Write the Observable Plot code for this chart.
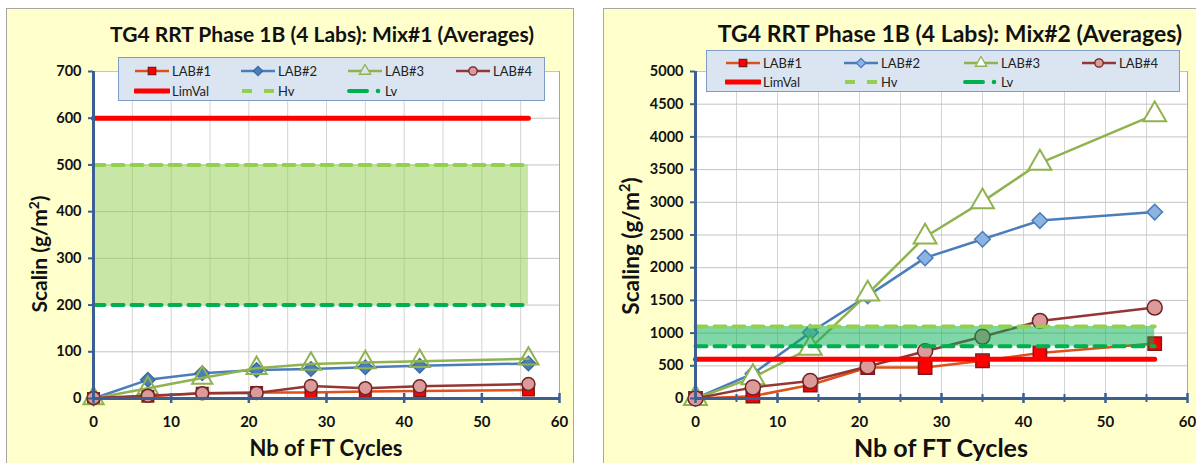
<!DOCTYPE html>
<html><head><meta charset="utf-8">
<script src="https://cdn.jsdelivr.net/npm/d3@7"></script>
<script src="https://cdn.jsdelivr.net/npm/@observablehq/plot@0.6"></script>
<style>
body{margin:0;width:1196px;height:463px;overflow:hidden;background:#fff;font-family:Lato,"Open Sans",sans-serif;position:relative}
.panel{position:absolute;background:#ffffcc;border:1px solid #a6a6a6;box-sizing:border-box}
.abs{position:absolute;white-space:nowrap}
.title{font-weight:bold;font-size:21px;color:#111;transform:translate(-50%,-50%)}
.xlab{font-weight:bold;font-size:22px;color:#111;transform:translate(-50%,-50%)}
.ylab{font-weight:bold;font-size:21px;color:#111;transform:translate(-50%,-50%) rotate(-90deg)}
.ylab sup{font-size:0.65em;vertical-align:0.55em;line-height:0}
.legend{position:absolute;background:#dbe5f1;border:1px solid #7f9cc6;box-sizing:border-box}
.litem{position:absolute;display:flex;align-items:center;font-size:13px;color:#222;transform:translateY(-50%)}
.litem svg{margin-right:2px}
.plotwrap{position:absolute;top:0}
</style></head>
<body>
<div class="panel" style="left:6px;top:8px;width:568px;height:470px"></div>
<div class="panel" style="left:603px;top:8px;width:610px;height:470px"></div>
<div id="c1" class="plotwrap" style="left:0"></div>
<div id="c2" class="plotwrap" style="left:600px"></div>
<script>
// ---- data ----
const cycles = [0, 7, 14, 21, 28, 35, 42, 56];
const labNames = ["LAB#1", "LAB#2", "LAB#3", "LAB#4"];
const mix1Lab1 = [0, 5, 11, 13, 13, 15, 16, 18];
const mix1Lab2 = [0, 40, 54, 61, 63, 67, 70, 75];
const mix1Lab3 = [0, 22, 44, 65, 74, 77, 80, 85];
const mix1Lab4 = [1, 6, 11, 12, 27, 22, 26, 31];
const mix2Lab1 = [0, 36, 206, 474, 474, 577, 696, 840];
const mix2Lab2 = [0, 380, 1010, 1570, 2150, 2435, 2720, 2850];
const mix2Lab3 = [0, 320, 770, 1600, 2470, 3010, 3600, 4340];
const mix2Lab4 = [0, 170, 268, 490, 722, 943, 1186, 1390];
const limitNames = ["LimVal", "Hv", "Lv"];
const mix1Limits = [600, 500, 200];
const mix2Limits = [600, 1100, 800];
const limitSpan = [0, 56];
const xTicks = [0, 10, 20, 30, 40, 50, 60];
const xMinorTicks = [5, 15, 25, 35, 45, 55];
const xGridLines = [5, 10, 15, 20, 25, 30, 35, 40, 45, 50, 55];
const mix1YTicks = [0, 100, 200, 300, 400, 500, 600, 700];
const mix2YTicks = [0, 500, 1000, 1500, 2000, 2500, 3000, 3500, 4000, 4500, 5000];
const titles = ["TG4 RRT Phase 1B (4 Labs): Mix#1 (Averages)", "TG4 RRT Phase 1B (4 Labs): Mix#2 (Averages)"];
const xTitle = "Nb of FT Cycles";
const yTitleWords = ["Scalin", "Scaling"];
const yUnit = "(g/m";

const axisColor = "#3b5f93";
function rows(vals){ return cycles.map((c,i)=>({x:c, y:vals[i]})); }

function buildPlot(el, cfg){
  const [lim, hv, lv] = cfg.limits;
  const marks = [
    Plot.frame({fill:"white", stroke:"#a6a6a6"}),
    Plot.gridX(xGridLines, {stroke:"#d4d4d4", strokeOpacity:1}),
    Plot.gridY(cfg.yTicks, {stroke:"#c4c4c4", strokeOpacity:1}),
  ];
  cfg.labs.forEach((vals, i) => {
    const s = cfg.styles[i];
    marks.push(Plot.line(rows(vals), {x:"x", y:"y", stroke:s.line, strokeWidth:2.5}));
    marks.push(Plot.dot(rows(vals), {x:"x", y:"y", symbol:s.symbol, r:s.r, fill:s.fill, stroke:s.stroke, strokeWidth:s.sw}));
  });
  marks.push(
    Plot.areaY(limitSpan, {x:d=>d, y1:()=>lv, y2:()=>hv, fill:cfg.areaFill, fillOpacity:0.5}),
    Plot.line(limitSpan, {x:d=>d, y:()=>lim, stroke:"#ff0000", strokeWidth:5}),
    Plot.line(limitSpan, {x:d=>d, y:()=>hv, stroke:"#92d050", strokeWidth:4, strokeDasharray:"11,8"}),
    Plot.line(limitSpan, {x:d=>d, y:()=>lv, stroke:"#00b050", strokeWidth:4, strokeDasharray:"11,8"}),
    Plot.ruleX([0], {stroke:axisColor, strokeWidth:3}),
    Plot.ruleY([0], {stroke:axisColor, strokeWidth:3}),
    Plot.axisY(cfg.yTicks, {anchor:"left", tickSize:5, tickPadding:7, stroke:axisColor, strokeWidth:2, fill:"#111", fontSize:14.5, fontWeight:"bold", tickFormat:d=>String(d), label:null}),
    Plot.axisX(xTicks, {anchor:"bottom", tickSize:0, tickPadding:18, fill:"#111", fontSize:15, fontWeight:"bold", tickFormat:d=>String(d), label:null}),
    Plot.axisX(xTicks, {anchor:"bottom", tickSize:10, dy:-5, stroke:axisColor, strokeWidth:2.5, tickFormat:()=>"", label:null})
  );
  if (cfg.minor) marks.push(Plot.axisX(xMinorTicks, {anchor:"bottom", tickSize:8, dy:-4, stroke:axisColor, strokeWidth:2, tickFormat:()=>"", label:null}));
  const p = Plot.plot({
    width: cfg.width, height: 463,
    marginLeft: cfg.ml, marginRight: cfg.mr, marginTop: 71, marginBottom: 65,
    x: {domain:[0,60], label:null},
    y: {domain:[0, cfg.yMax], label:null},
    style: {background:"transparent", fontFamily:"Lato, 'Open Sans', sans-serif", overflow:"visible"},
    marks
  });
  el.appendChild(p);
}

const stylesMix1 = [
  {line:"#e0501a", symbol:"square", r:6.5, fill:"#ff0000", stroke:"#7b1c1c", sw:1.5},
  {line:"#4a7ebb", symbol:"diamond2", r:6.5, fill:"#4a7ebb", stroke:"#3a6aa5", sw:1.5},
  {line:"#8fb34e", symbol:"triangle", r:7.5, fill:"none", stroke:"#8fb34e", sw:2},
  {line:"#943634", symbol:"circle", r:6.5, fill:"#dc9a9a", stroke:"#6e2424", sw:1.5},
];
const stylesMix2 = [
  {line:"#e0501a", symbol:"square", r:7.5, fill:"#ff0000", stroke:"#7b1c1c", sw:1.5},
  {line:"#4a7ebb", symbol:"diamond2", r:7, fill:"#8db3e2", stroke:"#4a7ebb", sw:1.5},
  {line:"#8fb34e", symbol:"triangle", r:8.5, fill:"white", stroke:"#8fb34e", sw:2},
  {line:"#943634", symbol:"circle", r:7.5, fill:"#dc9a9a", stroke:"#6e2424", sw:1.5},
];

buildPlot(document.getElementById("c1"), {width:590, ml:93, mr:31, yMax:700, yTicks:mix1YTicks,
  labs:[mix1Lab1, mix1Lab2, mix1Lab3, mix1Lab4], limits:mix1Limits, areaFill:"#92d050", styles:stylesMix1, minor:false});
buildPlot(document.getElementById("c2"), {width:596, ml:95, mr:9, yMax:5000, yTicks:mix2YTicks,
  labs:[mix2Lab1, mix2Lab2, mix2Lab3, mix2Lab4], limits:mix2Limits, areaFill:"#00b050", styles:stylesMix2, minor:true});

// ---- text ----
function addText(cls, text, x, y, size){
  const d = document.createElement("div");
  d.className = "abs " + cls; d.textContent = text;
  d.style.left = x + "px"; d.style.top = y + "px";
  if (size) d.style.fontSize = size + "px";
  document.body.appendChild(d);
  return d;
}
function addYLabel(word, x, y, size){
  const d = addText("ylab", word + " " + yUnit, x, y, size);
  const sup = document.createElement("sup"); sup.textContent = "2";
  d.appendChild(sup);
  d.appendChild(document.createTextNode(")"));
}
addText("title", titles[0], 322, 33, 21);
addText("title", titles[1], 950, 33, 23);
addText("xlab", xTitle, 326, 447, 22);
addText("xlab", xTitle, 941, 447, 25);
addYLabel(yTitleWords[0], 38, 254, 21);
addYLabel(yTitleWords[1], 630, 246, 22.5);

// ---- legends ----
function symbolSvg(kind, s){
  const ns = "http://www.w3.org/2000/svg";
  const svg = document.createElementNS(ns, "svg");
  svg.setAttribute("width", 36); svg.setAttribute("height", 14);
  const add = (tag, attrs) => { const e = document.createElementNS(ns, tag); for (const k in attrs) e.setAttribute(k, attrs[k]); svg.appendChild(e); };
  if (kind === "lab") {
    add("line", {x1:1, y1:7, x2:35, y2:7, stroke:s.line, "stroke-width":2.5});
    const sym = d3.symbol(s.symbol === "diamond2" ? d3.symbolDiamond2 : s.symbol === "square" ? d3.symbolSquare : s.symbol === "triangle" ? d3.symbolTriangle : d3.symbolCircle, Math.PI * 4.2 * 4.2)();
    add("path", {d:sym, transform:"translate(18,7)", fill:s.fill === "none" ? "#dbe5f1" : s.fill, stroke:s.stroke, "stroke-width":1.3});
  } else if (kind === "LimVal") {
    add("line", {x1:1, y1:7, x2:35, y2:7, stroke:"#ff0000", "stroke-width":5, "stroke-linecap":"round"});
  } else if (kind === "Hv") {
    add("line", {x1:2, y1:7, x2:12, y2:7, stroke:"#92d050", "stroke-width":4});
    add("line", {x1:24, y1:7, x2:34, y2:7, stroke:"#92d050", "stroke-width":4});
  } else if (kind === "Lv") {
    add("line", {x1:2, y1:7, x2:20, y2:7, stroke:"#00b050", "stroke-width":4, "stroke-linecap":"round"});
    add("circle", {cx:31, cy:7, r:2.3, fill:"#00b050"});
  }
  return svg;
}
function buildLegend(left, top, w, h, cols, styles){
  const box = document.createElement("div");
  box.className = "legend";
  Object.assign(box.style, {left:left+"px", top:top+"px", width:w+"px", height:h+"px"});
  document.body.appendChild(box);
  const item = (col, rowY, svg, label) => {
    const it = document.createElement("div");
    it.className = "litem";
    it.style.left = col + "px"; it.style.top = rowY + "px";
    it.appendChild(svg);
    const sp = document.createElement("span"); sp.textContent = label; it.appendChild(sp);
    box.appendChild(it);
  };
  labNames.forEach((n, i) => item(cols[i], h*0.29, symbolSvg("lab", styles[i]), n));
  limitNames.forEach((n, i) => item(cols[i], h*0.74, symbolSvg(n), n));
}
buildLegend(118, 57, 427, 44, [15, 121, 228, 336], stylesMix1);
buildLegend(706, 50, 474, 42, [18, 136, 256, 374], stylesMix2);
</script>
</body></html>
